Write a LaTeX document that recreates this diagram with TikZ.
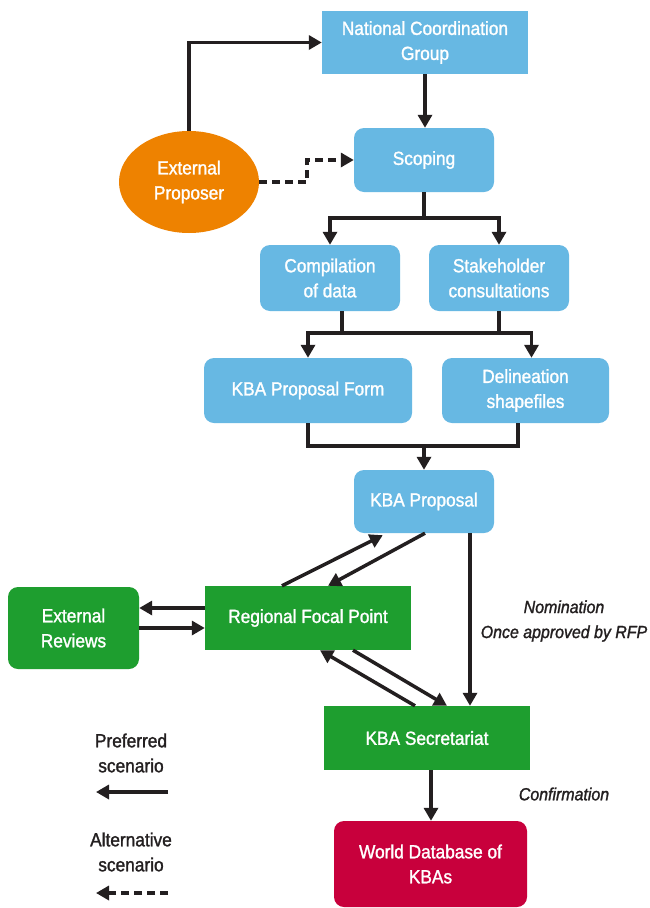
\documentclass[tikz,border=0pt]{standalone}
\usepackage{fontspec}
\setmainfont{Liberation Sans}[FakeStretch=0.91,FakeBold=1.4]
\usetikzlibrary{arrows.meta,shapes.geometric,calc}
\definecolor{kbablue}{HTML}{67B8E3}
\definecolor{kbagreen}{HTML}{1E9E2F}
\definecolor{kbaorange}{HTML}{EE8200}
\definecolor{kbared}{HTML}{C8003C}
\definecolor{ink}{HTML}{231F20}
\begin{document}
\begin{tikzpicture}[x=1pt,y=-1pt,
  base/.style={text=white, align=center, inner sep=0pt, font=\fontsize{19}{25}\selectfont},
  bluesq/.style={base, fill=kbablue},
  bluerd/.style={base, fill=kbablue, rounded corners=10pt},
  greensq/.style={base, fill=kbagreen},
  greenrd/.style={base, fill=kbagreen, rounded corners=10pt},
  redrd/.style={base, fill=kbared, rounded corners=10pt},
  oval/.style={base, fill=kbaorange, ellipse},
  lab/.style={text=ink, align=center, inner sep=0pt, font=\fontsize{19}{25}\selectfont},
  itlab/.style={text=ink, align=center, inner sep=0pt, font=\fontsize{17.5}{25}\selectfont\itshape},
  line/.style={draw=ink, line width=3.5pt},
  arr/.style={line, -{Triangle[length=13pt,width=14pt]}},
  dashline/.style={dash pattern=on 8pt off 5pt}]
\fill[white] (0,0) rectangle (649,908);
\useasboundingbox (0,0) rectangle (649,908);

\node[bluesq, minimum width=206pt, minimum height=63pt] (ncg) at (425,42.5) {National Coordination\\Group};
\node[bluerd, minimum width=140pt, minimum height=64pt] (scoping) at (424,160) {Scoping};
\node[oval, minimum width=140pt, minimum height=102pt] (ep) at (189,182) {External\\Proposer};
\node[bluerd, minimum width=140pt, minimum height=66pt] (comp) at (330,278) {Compilation\\of data};
\node[bluerd, minimum width=140pt, minimum height=66pt] (stake) at (499,278) {Stakeholder\\consultations};
\node[bluerd, minimum width=208pt, minimum height=65pt] (form) at (308,390.5) {KBA Proposal Form};
\node[bluerd, minimum width=167pt, minimum height=65pt] (delin) at (525.5,390.5) {Delineation\\shapefiles};
\node[bluerd, minimum width=140pt, minimum height=63pt] (proposal) at (424,501.5) {KBA Proposal};
\node[greensq, minimum width=206pt, minimum height=64pt] (rfp) at (308,618) {Regional Focal Point};
\node[greenrd, minimum width=131pt, minimum height=82pt] (extrev) at (73.5,628) {External\\Reviews};
\node[greensq, minimum width=206pt, minimum height=64pt] (sec) at (427,738) {KBA Secretariat};
\node[redrd, minimum width=193pt, minimum height=86pt] (wdb) at (430.5,864) {World Database of\\KBAs};

\node[itlab] (nom) at (564,621) {Nomination\\Once approved by RFP};
\node[itlab] (conf) at (564,794) {Confirmation};
\node[lab] (pref) at (131,753) {Preferred\\scenario};
\node[lab] (alt) at (131,852) {Alternative\\scenario};

% top
\draw[arr] (ep.north) |- (ncg.west);
\draw[arr] (ncg.south) -- (ncg.south |- scoping.north);
\draw[arr, dashline] (ep.east) -- ++(48,0) |- (scoping.west);

% scoping split
\coordinate (s1) at ($(scoping.south)+(0,26)$);
\draw[line] (scoping.south) -- (s1);
\draw[arr] (s1) -| (comp.north);
\draw[arr] (s1) -| (stake.north);

% compilation / stakeholder to form / delineation
\coordinate (c1) at ($(comp.south)+(12,22)$);
\coordinate (c2) at (stake.south |- c1);
\draw[line] (comp.south -| c1) -- (c1);
\draw[line] (stake.south) -- (c2);
\draw[line] (c1) -- (c2);
\draw[arr] (c1) -| (form.north);
\draw[arr] (c2) -| ($(delin.north)+(6,0)$);

% form / delineation to proposal
\draw[line] (form.south) -- ++(0,23) coordinate (d1) -| ($(delin.south)+(-7.5,0)$);
\draw[arr] (proposal.north |- d1) -- (proposal.north);

% proposal <-> RFP
\draw[arr] ($(rfp.north)+(-26,0)$) -- ($(proposal.south west)+(29,2)$);
\draw[arr] ($(proposal.south)+(1,0)$) -- ($(rfp.north)+(20,0)$);

% RFP <-> external reviews
\draw[arr] ($(rfp.west)+(0,-10)$) -- ($(extrev.east)+(0,-20)$);
\draw[arr] (extrev.east) -- ($(rfp.west)+(0,10)$);

% RFP <-> secretariat
\draw[arr] ($(rfp.south)+(45,0)$) -- ($(sec.north)+(20,0)$);
\draw[arr] ($(sec.north)+(-12,0)$) -- ($(rfp.south)+(12,0)$);

% proposal -> secretariat
\coordinate (pv) at ($(proposal.south)+(46,0)$);
\draw[arr] (pv) -- (pv |- sec.north);

% secretariat -> world database
\coordinate (sv) at ($(sec.south)+(4,0)$);
\draw[arr] (sv) -- (sv |- wdb.north);

% legend
\coordinate (pa) at (168,792);
\coordinate (pb) at (96,792);
\draw[arr] (pa) -- (pb);
\coordinate (qa) at (168,893);
\coordinate (qb) at (96,893);
\draw[arr, dashline] (qa) -- (qb);
\end{tikzpicture}
\end{document}
